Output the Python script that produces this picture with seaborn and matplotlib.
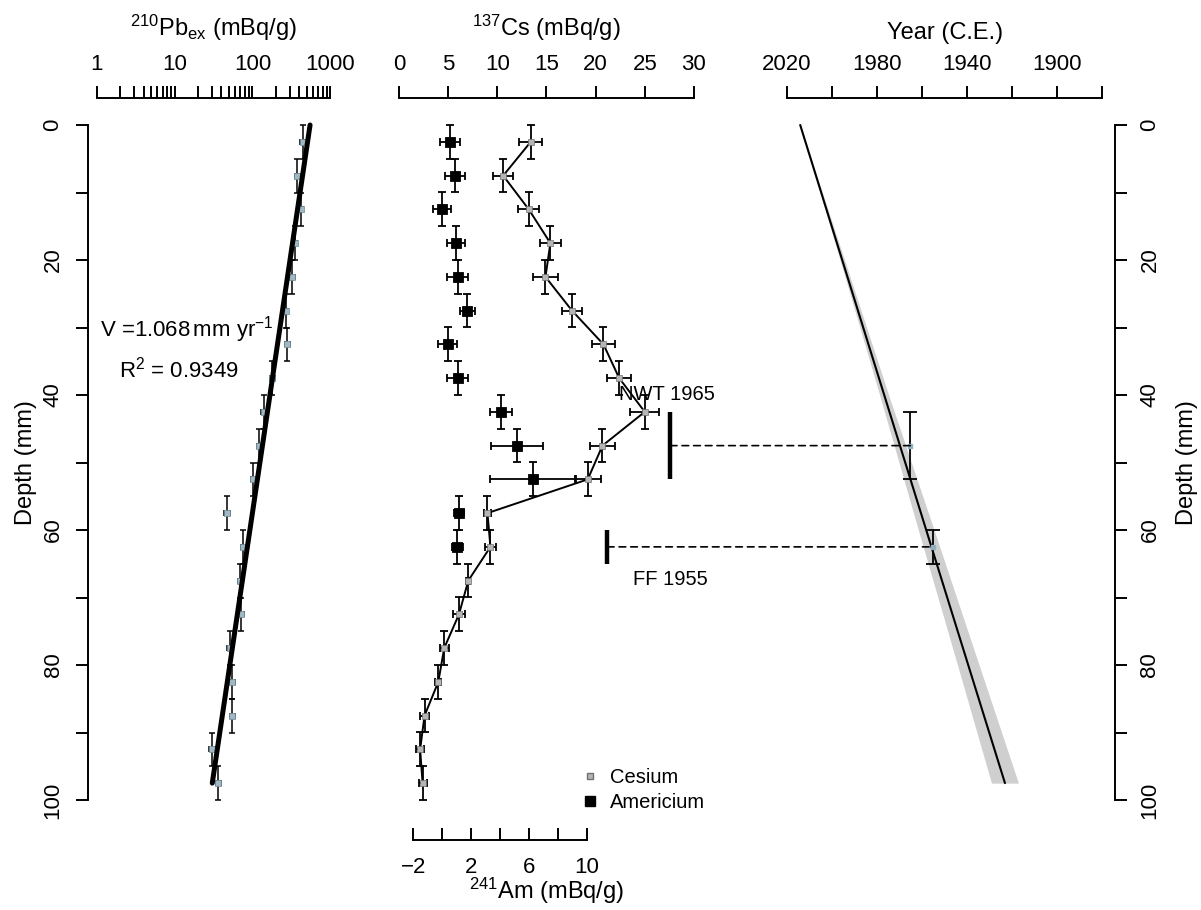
import matplotlib
matplotlib.use("Agg")
import matplotlib.pyplot as plt
from matplotlib.patches import ConnectionPatch
from matplotlib.lines import Line2D
from matplotlib.ticker import FixedLocator, NullFormatter
import seaborn as sns

sns.set_theme(style="ticks")
plt.rcParams['font.family'] = ['Liberation Sans', 'DejaVu Sans']
plt.rcParams['mathtext.fontset'] = 'custom'
plt.rcParams['mathtext.rm'] = 'Liberation Sans'
plt.rcParams['mathtext.it'] = 'Liberation Sans:italic'
plt.rcParams['axes.unicode_minus'] = True
for k in ['text.color', 'axes.labelcolor', 'xtick.color', 'ytick.color', 'axes.edgecolor']:
    plt.rcParams[k] = 'black'

# --- dados ---
depth = [2.5, 7.5, 12.5, 17.5, 22.5, 27.5, 32.5, 37.5, 42.5, 47.5,
         52.5, 57.5, 62.5, 67.5, 72.5, 77.5, 82.5, 87.5, 92.5, 97.5]
half_slice = 2.5  # meia espessura da fatia (mm)

pb210 = [444, 379, 419, 354, 327, 271, 282, 181, 139, 122,
         103, 46.9, 76.6, 69.5, 71.6, 51.7, 55.4, 55.4, 30.1, 36.6]
pb210_err = [30, 25, 28, 24, 22, 19, 20, 13, 10, 9,
             8, 4, 6, 5, 6, 4, 4.5, 4.5, 2.5, 3]
pb_fit_depth = [0, 97.5]
pb_fit_value = [550, 30.5]

cs137 = [13.4, 10.6, 13.2, 15.4, 14.9, 17.6, 20.8, 22.4, 25.0, 20.7,
         19.2, 9.0, 9.3, 7.05, 6.1, 4.6, 4.0, 2.6, 2.15, 2.4]
cs137_err = [1.19, 1.02, 1.05, 1.05, 1.27, 1.05, 1.19, 1.24, 1.46, 1.29,
             1.3, 0.39, 0.54, 0.2, 0.58, 0.47, 0.3, 0.5, 0.4, 0.4]

am_depth = depth[:13]
am241 = [0.54, 0.89, -0.04, 0.95, 1.07, 1.74, 0.38, 1.07, 4.05, 5.19, 6.3, 1.16, 1.05]
am241_err = [0.69, 0.72, 0.63, 0.63, 0.73, 0.53, 0.66, 0.73, 0.77, 1.81, 2.97, 0.35, 0.4]

horizon_label = ['NWT 1965', 'FF 1955']
horizon_year = [1965, 1955]
horizon_depth = [47.5, 62.5]
horizon_depth_err = [5, 2.5]
horizon_cs_pos = [27.6, 21.2]
horizon_text_pos = [(27.3, 40.0), (27.6, 67.4)]

cfcs_depth = [0, 97.5]
cfcs_year = [2014, 1923]
band_depth = [0, 20, 40, 60, 80, 97.5]
band_young = [2014, 1996.3, 1978.7, 1961.5, 1944.1, 1929]
band_old = [2014, 1994.3, 1974.7, 1954.5, 1934.5, 1917]

depth_major = [0, 20, 40, 60, 80, 100]
depth_minor = [10, 30, 50, 70, 90]

# --- figura ---
W, H = 1201, 910
fig = plt.figure(figsize=(W / 100, H / 100), dpi=100)

def box(x0, x1, y0, y1):
    return [x0 / W, 1 - y1 / H, (x1 - x0) / W, (y1 - y0) / H]

ax1 = fig.add_axes(box(88, 339, 98, 827))
ax2 = fig.add_axes(box(387, 706, 98, 840))
ax3 = fig.add_axes(box(775, 1115, 98, 827))

lab_fs = 17
tick_fs = 16
lw_axis = 1.4
tick_len = 8.6

def estilo_depth(ax, side, labelpad):
    for s in ['top', 'bottom', 'left', 'right']:
        ax.spines[s].set_visible(False)
    ax.spines[side].set_visible(True)
    ax.spines[side].set_bounds(0, 100)
    ax.spines[side].set_linewidth(lw_axis)
    if side == 'right':
        ax.yaxis.tick_right()
        ax.yaxis.set_label_position('right')
    ax.yaxis.set_major_locator(FixedLocator(depth_major))
    ax.yaxis.set_minor_locator(FixedLocator(depth_minor))
    ax.tick_params(axis='y', which='both', direction='out', length=tick_len,
                   width=lw_axis, labelsize=tick_fs, labelrotation=90, pad=9)
    for t in ax.get_yticklabels():
        t.set_va('center')
    ax.set_ylabel('Depth (mm)', fontsize=lab_fs, labelpad=labelpad)

def estilo_topo(ax, lo, hi):
    ax.xaxis.tick_top()
    ax.xaxis.set_label_position('top')
    ax.spines['top'].set_visible(True)
    ax.spines['top'].set_bounds(lo, hi)
    ax.spines['top'].set_linewidth(lw_axis)
    ax.tick_params(axis='x', which='both', direction='out', length=tick_len,
                   width=lw_axis, labelsize=tick_fs, pad=8)

# --- painel 1: 210Pb ---
ax1.set_xscale('log')
ax1.set_xlim(0.773, 1294)
ax1.set_ylim(104, -4)
ax1.errorbar(pb210, depth, xerr=pb210_err, yerr=half_slice, fmt='none',
             ecolor='black', elinewidth=1.1, capsize=2.5, capthick=1.1)
sns.scatterplot(x=pb210, y=depth, marker='s', s=14, color='#9fb8c4',
                edgecolor='#6d8a96', linewidth=0.5, ax=ax1, zorder=3)
sns.lineplot(x=pb_fit_value, y=pb_fit_depth, orient='y', sort=False,
             color='black', linewidth=3.6, ax=ax1, zorder=4)
estilo_depth(ax1, 'left', 4)
estilo_topo(ax1, 1, 1000)
ax1.xaxis.set_major_locator(FixedLocator([1, 10, 100, 1000]))
ax1.xaxis.set_minor_locator(FixedLocator([m * 10 ** e for e in range(3) for m in range(2, 10)]))
ax1.xaxis.set_minor_formatter(NullFormatter())
ax1.set_xticklabels(['1', '10', '100', '1000'])
ax1.set_xlabel(r'$\mathregular{^{210}Pb_{ex}}$ (mBq/g)', fontsize=lab_fs, labelpad=13)
ax1.text(0.394, 0.682, r'V =1.068$\,$mm yr$\mathregular{^{-1}}$', transform=ax1.transAxes,
         ha='center', va='center', fontsize=16)
ax1.text(0.363, 0.627, r'R$\mathregular{^{2}}$ = 0.9349', transform=ax1.transAxes,
         ha='center', va='center', fontsize=16)

# --- painel 2: 137Cs e 241Am ---
ax2.set_xlim(-1.22, 31.23)
ax2.set_ylim(105.93, -4)

sns.lineplot(x=cs137, y=depth, orient='y', sort=False, color='black',
             linewidth=1.4, ax=ax2, zorder=2)
ax2.errorbar(cs137, depth, xerr=cs137_err, yerr=half_slice, fmt='none',
             ecolor='black', elinewidth=1.3, capsize=3, capthick=1.3, zorder=3)
sns.scatterplot(x=cs137, y=depth, marker='s', s=14, color='#b5b5b5',
                edgecolor='#707070', linewidth=0.5, ax=ax2, zorder=4)

for lab, cx, d, de, (tx, ty) in zip(horizon_label, horizon_cs_pos, horizon_depth,
                                    horizon_depth_err, horizon_text_pos):
    ax2.plot([cx, cx], [d - de, d + de], color='black', linewidth=3.2,
             solid_capstyle='butt')
    ax2.text(tx, ty, lab, ha='center', va='center', fontsize=14.5)

ax2b = ax2.twiny()
ax2b.set_xlim(-3.82, 18.26)
for s in ['left', 'right', 'top']:
    ax2b.spines[s].set_visible(False)
ax2b.spines['bottom'].set_visible(True)
ax2b.spines['bottom'].set_bounds(-2, 10)
ax2b.spines['bottom'].set_linewidth(lw_axis)
ax2b.xaxis.set_ticks_position('bottom')
ax2b.xaxis.set_label_position('bottom')
ax2b.xaxis.set_major_locator(FixedLocator([-2, 2, 6, 10]))
ax2b.xaxis.set_minor_locator(FixedLocator([0, 4, 8]))
ax2b.tick_params(axis='x', which='both', direction='in', length=tick_len,
                 width=lw_axis, labelsize=tick_fs, pad=12)
ax2b.set_xlabel(r'$\mathregular{^{241}Am}$ (mBq/g)', fontsize=lab_fs, labelpad=-1)
ax2b.errorbar(am241, am_depth, xerr=am241_err, yerr=half_slice, fmt='none',
              ecolor='black', elinewidth=1.3, capsize=3, capthick=1.3, zorder=3)
sns.scatterplot(x=am241, y=am_depth, marker='s', s=55, color='black',
                edgecolor='black', ax=ax2b, zorder=4)

# eixo do Cs no topo (depois do twiny, que mexe na posição dos ticks)
for s in ['left', 'right', 'bottom']:
    ax2.spines[s].set_visible(False)
ax2.set_yticks([])
estilo_topo(ax2, 0, 30)
ax2.set_xticks([0, 5, 10, 15, 20, 25, 30])
ax2.set_xlabel(r'$\mathregular{^{137}Cs}$ (mBq/g)', fontsize=lab_fs, labelpad=13)

# --- painel 3: cronologia ---
ax3.set_xlim(2025.2, 1874.1)
ax3.set_ylim(104, -4)
ax3.fill_betweenx(band_depth, band_old, band_young, color='#cfcfcf', linewidth=0)
sns.lineplot(x=cfcs_year, y=cfcs_depth, orient='y', sort=False, color='black',
             linewidth=1.5, ax=ax3)
ax3.errorbar(horizon_year, horizon_depth, yerr=horizon_depth_err, fmt='s',
             color='#8fb0bf', markersize=3, ecolor='black', elinewidth=1.3,
             capsize=5, capthick=1.3, zorder=3)
estilo_depth(ax3, 'right', 11)
estilo_topo(ax3, 2020, 1880)
ax3.xaxis.set_major_locator(FixedLocator([2020, 1980, 1940, 1900]))
ax3.xaxis.set_minor_locator(FixedLocator([2000, 1960, 1920, 1880]))
ax3.set_xlabel('Year (C.E.)', fontsize=lab_fs, labelpad=11)

# linhas tracejadas ligando os marcadores às datas
for cx, yr, d in zip(horizon_cs_pos, horizon_year, horizon_depth):
    con = ConnectionPatch(xyA=(cx, d), coordsA=ax2.transData,
                          xyB=(yr, d), coordsB=ax3.transData,
                          color='black', linewidth=1.2, linestyle=(0, (4, 3)))
    fig.add_artist(con)

handles = [
    Line2D([], [], marker='s', linestyle='none', markersize=5,
           markerfacecolor='#b5b5b5', markeredgecolor='#707070', label='Cesium'),
    Line2D([], [], marker='s', linestyle='none', markersize=7,
           color='black', label='Americium'),
]
fig.legend(handles=handles, loc='upper left', bbox_to_anchor=(582 / W, 1 - 768 / H),
           frameon=False, fontsize=14.5, handlelength=0.8, handletextpad=0.6,
           labelspacing=0.3, borderpad=0, borderaxespad=0)

fig.savefig('out.png', dpi=100)
